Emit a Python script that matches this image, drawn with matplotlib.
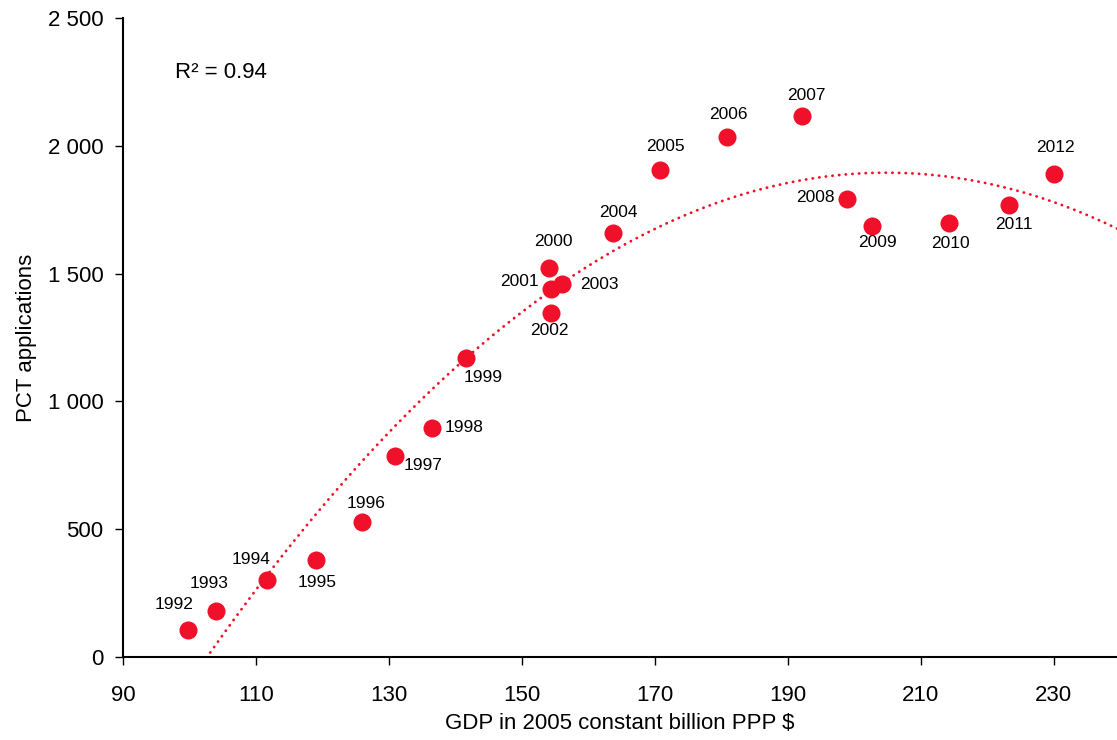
import numpy as np
import matplotlib
matplotlib.use("Agg")
import matplotlib.pyplot as plt
from matplotlib.ticker import FuncFormatter

plt.rcParams["font.family"] = ["Liberation Sans", "DejaVu Sans"]

years = [1992, 1993, 1994, 1995, 1996, 1997, 1998, 1999, 2000, 2001, 2002,
         2003, 2004, 2005, 2006, 2007, 2008, 2009, 2010, 2011, 2012]
gdp = [99.8, 104.0, 111.7, 119.0, 125.9, 130.9, 136.5, 141.6, 154.1, 154.4,
       154.4, 156.0, 163.7, 170.8, 180.8, 192.1, 198.9, 202.6, 214.2, 223.2, 230.0]
pct = [106, 180, 301, 380, 528, 786, 896, 1170, 1522, 1440, 1346,
       1459, 1659, 1905, 2034, 2117, 1792, 1686, 1698, 1768, 1890]

# label offsets in points (dx, dy)
label_off = {
    1992: (-10, 18), 1993: (-5, 20), 1994: (-12, 15), 1995: (1, -16),
    1996: (3, 13), 1997: (20, -7), 1998: (23, 0), 1999: (12, -14),
    2000: (3, 19), 2001: (-23, 5), 2002: (-1, -13), 2003: (27, 0),
    2004: (4, 15), 2005: (4, 17), 2006: (1, 16), 2007: (3, 15),
    2008: (-23, 1), 2009: (4, -12), 2010: (1, -15), 2011: (4, -14),
    2012: (1, 19),
}

red = "#F0102A"

fig = plt.figure(figsize=(11.17, 7.40), dpi=100)
ax = fig.add_axes([0.1101, 0.1122, 0.8899, 0.8635])

# quadratic trend
coef = np.polyfit(gdp, pct, 2)
xs = np.linspace(90, 240, 400)
ys = np.polyval(coef, xs)
ax.plot(xs, ys, color=red, lw=2.0, linestyle=(0, (0.1, 2.3)),
        dash_capstyle="round", zorder=2)
resid = np.array(pct) - np.polyval(coef, gdp)
r2 = 1 - np.sum(resid ** 2) / np.sum((np.array(pct) - np.mean(pct)) ** 2)

ax.plot(gdp, pct, "o", color=red, markersize=13, markeredgewidth=0, zorder=3)

for yr, x, y in zip(years, gdp, pct):
    dx, dy = label_off[yr]
    ax.annotate(str(yr), (x, y), xytext=(dx, dy), textcoords="offset points",
                ha="center", va="center", fontsize=12.5)

ax.text(0.052, 0.915, "R\u00b2 = %.2f" % r2, transform=ax.transAxes,
        fontsize=16, ha="left", va="center")

ax.set_xlim(90, 239.5)
ax.set_ylim(0, 2500)
ax.set_xticks(range(90, 240, 20))
ax.set_yticks(range(0, 2501, 500))
ax.yaxis.set_major_formatter(FuncFormatter(lambda v, p: "{:,}".format(int(v)).replace(",", " ")))

for s in ["top", "right"]:
    ax.spines[s].set_visible(False)
ax.spines["left"].set_linewidth(1.5)
ax.spines["bottom"].set_linewidth(1.5)
ax.tick_params(axis="x", direction="out", length=6, width=1, labelsize=16, pad=14)
ax.tick_params(axis="y", direction="out", length=6, width=1, labelsize=16, pad=8)

ax.set_xlabel("GDP in 2005 constant billion PPP $", fontsize=16, labelpad=5)
ax.set_ylabel("PCT applications", fontsize=16, labelpad=8)

fig.savefig("out.png", dpi=100)
